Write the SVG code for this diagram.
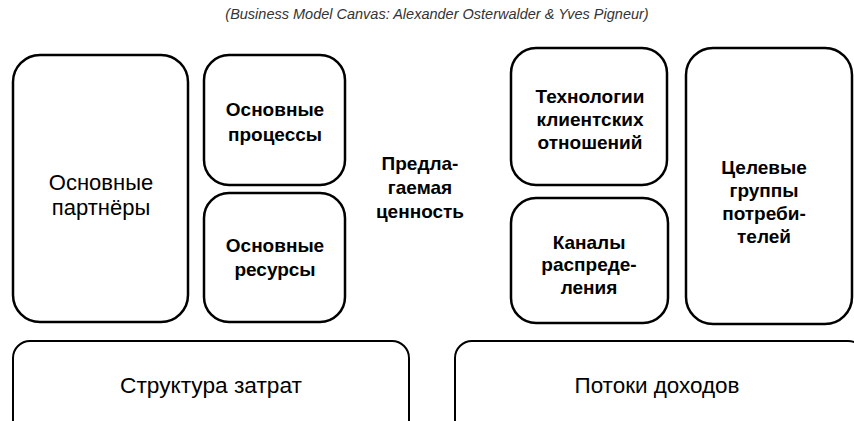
<svg xmlns="http://www.w3.org/2000/svg" width="854" height="421" viewBox="0 0 854 421">
<style>
.box{fill:#fff;stroke:#000;stroke-width:2.5}
.thin{stroke-width:2}
.t{font-family:"Liberation Sans",Arial,sans-serif;text-anchor:middle;fill:#000}
.b{font-size:19px;font-weight:bold}
.r{font-size:22px}
.cap{font-size:14.5px;font-style:italic;fill:#333}
</style>
<rect width="854" height="421" fill="#fff"/>
<text class="t cap" x="437" y="19">(Business Model Canvas: Alexander Osterwalder &amp; Yves Pigneur)</text>
<g id="partners">
<rect class="box" x="13" y="55" width="175" height="267" rx="27"/>
<text class="t r" x="101" y="190">Основные</text>
<text class="t r" x="101" y="215">партнёры</text>
</g>
<g id="processes">
<rect class="box" x="204" y="55" width="141" height="130" rx="25"/>
<text class="t b" x="275" y="116">Основные</text>
<text class="t b" x="275" y="141">процессы</text>
</g>
<g id="resources">
<rect class="box" x="204" y="193" width="141" height="129" rx="25"/>
<text class="t b" x="275" y="252">Основные</text>
<text class="t b" x="275" y="276">ресурсы</text>
</g>
<g id="value">
<text class="t b" x="420" y="170">Предла-</text>
<text class="t b" x="420" y="194">гаемая</text>
<text class="t b" x="420" y="218">ценность</text>
</g>
<g id="relationships">
<rect class="box" x="511" y="48" width="156" height="137" rx="25"/>
<text class="t b" x="590" y="103">Технологии</text>
<text class="t b" x="590" y="126">клиентских</text>
<text class="t b" x="590" y="149">отношений</text>
</g>
<g id="channels">
<rect class="box" x="511" y="198" width="157" height="125" rx="25"/>
<text class="t b" x="589" y="249">Каналы</text>
<text class="t b" x="589" y="271">распреде-</text>
<text class="t b" x="589" y="294">ления</text>
</g>
<g id="segments">
<rect class="box" x="686" y="48" width="166" height="276" rx="27"/>
<text class="t b" x="764" y="174">Целевые</text>
<text class="t b" x="764" y="197">группы</text>
<text class="t b" x="764" y="220">потреби-</text>
<text class="t b" x="764" y="243">телей</text>
</g>
<g id="costs">
<rect class="box thin" x="13" y="341" width="396" height="110" rx="17"/>
<text class="t r" x="211" y="393" textLength="182" lengthAdjust="spacingAndGlyphs">Структура затрат</text>
</g>
<g id="revenue">
<rect class="box thin" x="455" y="341" width="410" height="110" rx="17"/>
<text class="t r" x="657" y="393" textLength="165" lengthAdjust="spacingAndGlyphs">Потоки доходов</text>
</g>
<g id="connectors"></g>
</svg>
